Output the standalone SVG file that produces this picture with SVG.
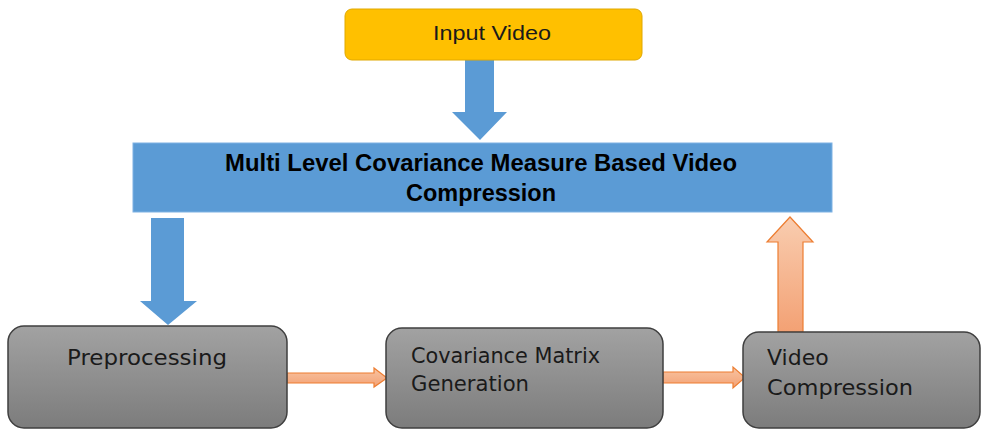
<svg xmlns="http://www.w3.org/2000/svg" width="982" height="430" viewBox="0 0 982 430">
<defs>
<linearGradient id="gray" x1="0" y1="0" x2="0" y2="1">
<stop offset="0" stop-color="#a2a2a2"/>
<stop offset="1" stop-color="#7c7c7c"/>
</linearGradient>
<linearGradient id="orangeUp" x1="0" y1="0" x2="0" y2="1">
<stop offset="0" stop-color="#f9cdb0"/>
<stop offset="1" stop-color="#f3a174"/>
</linearGradient>
<linearGradient id="orangeH" x1="0" y1="0" x2="0" y2="1">
<stop offset="0" stop-color="#f8c4a2"/>
<stop offset="1" stop-color="#f3a174"/>
</linearGradient>
</defs>
<style>
.proc{fill:url(#gray);stroke:#3f3f3f;stroke-width:1.5}
.lbl{font-family:"DejaVu Sans",sans-serif;font-size:22px;fill:#1a1a1a}
.title{font-family:"Liberation Sans",sans-serif;font-weight:bold;font-size:23px;fill:#000}
.blue{fill:#5b9bd5}
.orng{stroke:#ed7d31;stroke-width:1.2}
</style>
<rect width="982" height="430" fill="#ffffff"/>
<g id="connectors">
<polygon class="blue" points="465,60 494,60 494,112 507,112 480,140 452,112 465,112"/>
<polygon class="blue" points="151,218 184,218 184,301 197,301 168,325 140,301 151,301"/>
<polygon class="orng" fill="url(#orangeH)" points="287,373 374,373 374,368 387,378 374,387 374,383 287,383"/>
<polygon class="orng" fill="url(#orangeH)" points="663,372 733,372 733,367 745,377.5 733,388 733,383 663,383"/>
<polygon class="orng" fill="url(#orangeUp)" points="778,332 778,242 767,242 790,217 813,242 803,242 803,332"/>
</g>
<g id="input-video">
<rect x="345" y="9" width="297" height="51" rx="7" fill="#ffc000" stroke="#e0a800" stroke-width="1"/>
<text x="492" y="40" text-anchor="middle" font-family="'Liberation Sans',sans-serif" font-size="21" fill="#1a1a1a" textLength="118" lengthAdjust="spacingAndGlyphs">Input Video</text>
</g>
<g id="mlcm">
<rect x="133" y="143" width="699" height="69" fill="#5b9bd5" stroke="#7fb2e3" stroke-width="1"/>
<text class="title" x="481" y="171" text-anchor="middle" textLength="512" lengthAdjust="spacingAndGlyphs">Multi Level Covariance Measure Based Video</text>
<text class="title" x="481" y="201" text-anchor="middle" textLength="150" lengthAdjust="spacingAndGlyphs">Compression</text>
</g>
<g id="preprocessing">
<rect class="proc" x="8" y="326" width="279" height="102" rx="16"/>
<text class="lbl" x="147" y="365" text-anchor="middle" textLength="160" lengthAdjust="spacingAndGlyphs">Preprocessing</text>
</g>
<g id="covariance">
<rect class="proc" x="386" y="328" width="277" height="100" rx="16"/>
<text class="lbl" x="411" y="363" textLength="189" lengthAdjust="spacingAndGlyphs">Covariance Matrix</text>
<text class="lbl" x="411" y="391" textLength="118" lengthAdjust="spacingAndGlyphs">Generation</text>
</g>
<g id="video-compression">
<rect class="proc" x="743" y="332" width="237" height="96" rx="16"/>
<text class="lbl" x="767" y="365">Video</text>
<text class="lbl" x="767" y="395" textLength="146" lengthAdjust="spacingAndGlyphs">Compression</text>
</g>
</svg>
